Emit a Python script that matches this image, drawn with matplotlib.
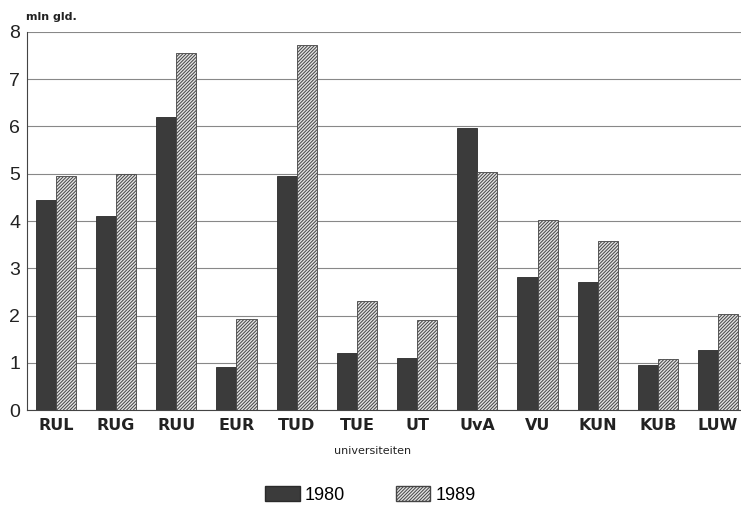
import numpy as np
import matplotlib
matplotlib.use("Agg")
import matplotlib.pyplot as plt
from matplotlib.patches import Patch

# research funds per university, million guilders
universities = ['RUL', 'RUG', 'RUU', 'EUR', 'TUD', 'TUE', 'UT', 'UvA', 'VU', 'KUN', 'KUB', 'LUW']
y1980 = [4.45, 4.1, 6.2, 0.92, 4.95, 1.2, 1.1, 5.97, 2.82, 2.7, 0.95, 1.26]
y1989 = [4.95, 5.0, 7.55, 1.92, 7.72, 2.3, 1.9, 5.03, 4.02, 3.58, 1.07, 2.03]
yticks = [0, 1, 2, 3, 4, 5, 6, 7, 8]

plt.rcParams['font.family'] = ['Liberation Sans', 'DejaVu Sans']
plt.rcParams['hatch.color'] = '#4a4a4a'
plt.rcParams['hatch.linewidth'] = 0.7

HATCH = '//////////'

fig = plt.figure(figsize=(7.41, 5.16), dpi=100)
ax = fig.add_axes([0.0364, 0.2054, 0.9636, 0.7326])

x = np.arange(len(universities))
w = 0.333
ax.bar(x - w / 2, y1980, w, color='#3b3b3b', edgecolor='#2a2a2a', linewidth=0.6, zorder=3)
ax.bar(x + w / 2, y1989, w, color='#e2e2e2', edgecolor='#444444', hatch=HATCH,
       linewidth=0.6, zorder=3)

ax.set_xlim(-0.48, 11.38)
ax.set_ylim(0, 8)
ax.set_yticks(yticks)
ax.set_yticklabels([str(t) for t in yticks], fontsize=14)
ax.set_xticks(x)
ax.set_xticklabels(universities, fontsize=11.5, fontweight='bold', color='#222222',
                   family='DejaVu Sans')
ax.tick_params(axis='both', length=0, pad=6, colors='#222222')
ax.tick_params(axis='y', pad=5)
ax.yaxis.grid(True, color='#888888', linewidth=0.8, zorder=0)

for s in ['top', 'right']:
    ax.spines[s].set_visible(False)
ax.spines['left'].set_color('#444444')
ax.spines['bottom'].set_color('#444444')

fig.text(0.035, 0.968, 'mln gld.', fontsize=8, fontweight='bold', color='#222222',
         va='center', ha='left', family='DejaVu Sans')
fig.text(0.503, 0.126, 'universiteiten', fontsize=8, color='#222222',
         va='center', ha='center', family='DejaVu Sans')

handles = [Patch(facecolor='#3b3b3b', edgecolor='#2a2a2a', label='1980'),
           Patch(facecolor='#e2e2e2', edgecolor='#444444', hatch=HATCH, label='1989')]
fig.legend(handles=handles, loc='center', bbox_to_anchor=(0.5, 0.04), ncol=2, frameon=False,
           fontsize=13, handlelength=1.9, handleheight=0.9, columnspacing=2.8,
           handletextpad=0.3)

fig.savefig('out.png', dpi=100)
